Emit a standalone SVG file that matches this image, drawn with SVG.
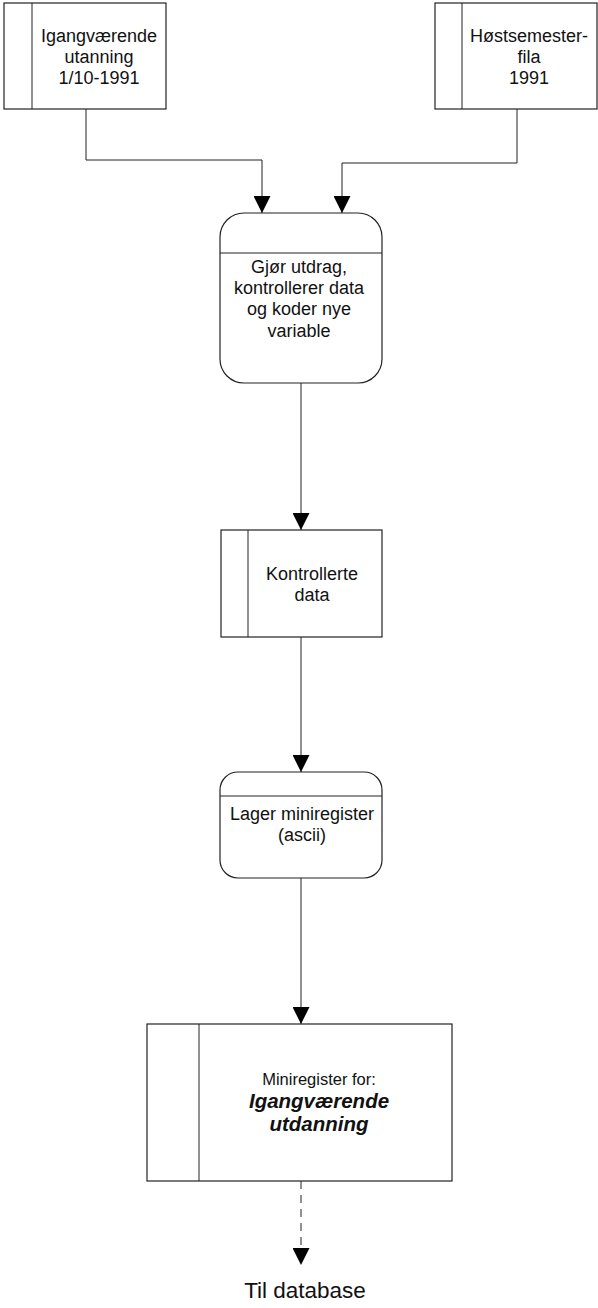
<svg xmlns="http://www.w3.org/2000/svg" width="598" height="1308" viewBox="0 0 598 1308">
<style>
.box{fill:#fff;stroke:#222;stroke-width:1.2}
.div{stroke:#222;stroke-width:1}
.t{font-family:"Liberation Sans",Arial,sans-serif;font-size:18px;fill:#111;text-anchor:middle}
.c{fill:none;stroke:#222;stroke-width:1}
</style>
<defs>
<marker id="ah" markerWidth="18" markerHeight="17" refX="17" refY="8.5" orient="auto" markerUnits="userSpaceOnUse" viewBox="0 0 17 17">
<path d="M0,0 L17,8.5 L0,17 Z" fill="#000"/>
</marker>
</defs>
<rect width="598" height="1308" fill="#fff"/>
<g id="connectors">
<polyline class="c" points="86,109 86,160 262,160 262,213" marker-end="url(#ah)"/>
<polyline class="c" points="517,109 517,163 342,163 342,213" marker-end="url(#ah)"/>
<line class="c" x1="301" y1="383" x2="301" y2="530" marker-end="url(#ah)"/>
<line class="c" x1="301" y1="637" x2="301" y2="772" marker-end="url(#ah)"/>
<line class="c" x1="301" y1="878" x2="301" y2="1024" marker-end="url(#ah)"/>
<line class="c" x1="301" y1="1181" x2="301" y2="1265" stroke-dasharray="8,6" marker-end="url(#ah)"/>
</g>
<g id="n1">
<rect class="box" x="4" y="3" width="162" height="106"/>
<line class="div" x1="32" y1="3" x2="32" y2="109"/>
<text class="t" x="99" y="42">Igangværende</text>
<text class="t" x="99" y="63">utanning</text>
<text class="t" x="99" y="84">1/10-1991</text>
</g>
<g id="n2">
<rect class="box" x="435" y="3" width="162" height="106"/>
<line class="div" x1="462" y1="3" x2="462" y2="109"/>
<text class="t" x="529" y="42">Høstsemester-</text>
<text class="t" x="529" y="63">fila</text>
<text class="t" x="529" y="84">1991</text>
</g>
<g id="p1">
<rect class="box" x="220" y="213" width="162" height="170" rx="24" ry="24"/>
<line class="div" x1="220" y1="253" x2="382" y2="253"/>
<text class="t" x="299" y="273">Gjør utdrag,</text>
<text class="t" x="299" y="294">kontrollerer data</text>
<text class="t" x="299" y="315">og koder nye</text>
<text class="t" x="299" y="337">variable</text>
</g>
<g id="n3">
<rect class="box" x="221" y="530" width="161" height="107"/>
<line class="div" x1="248" y1="530" x2="248" y2="637"/>
<text class="t" x="312" y="580">Kontrollerte</text>
<text class="t" x="312" y="601">data</text>
</g>
<g id="p2">
<rect class="box" x="220" y="772" width="162" height="106" rx="18" ry="18"/>
<line class="div" x1="220" y1="796" x2="382" y2="796"/>
<text class="t" x="302" y="820">Lager miniregister</text>
<text class="t" x="302" y="841">(ascii)</text>
</g>
<g id="n4">
<rect class="box" x="147" y="1024" width="305" height="157"/>
<line class="div" x1="199" y1="1024" x2="199" y2="1181"/>
<text class="t" x="319" y="1085" style="font-size:16.5px">Miniregister for:</text>
<text class="t" x="319" y="1108" style="font-size:20.5px;font-weight:bold;font-style:italic">Igangværende</text>
<text class="t" x="319" y="1131" style="font-size:20.5px;font-weight:bold;font-style:italic">utdanning</text>
</g>
<g id="end">
<text class="t" x="305" y="1298" style="font-size:22.5px">Til database</text>
</g>
</svg>
